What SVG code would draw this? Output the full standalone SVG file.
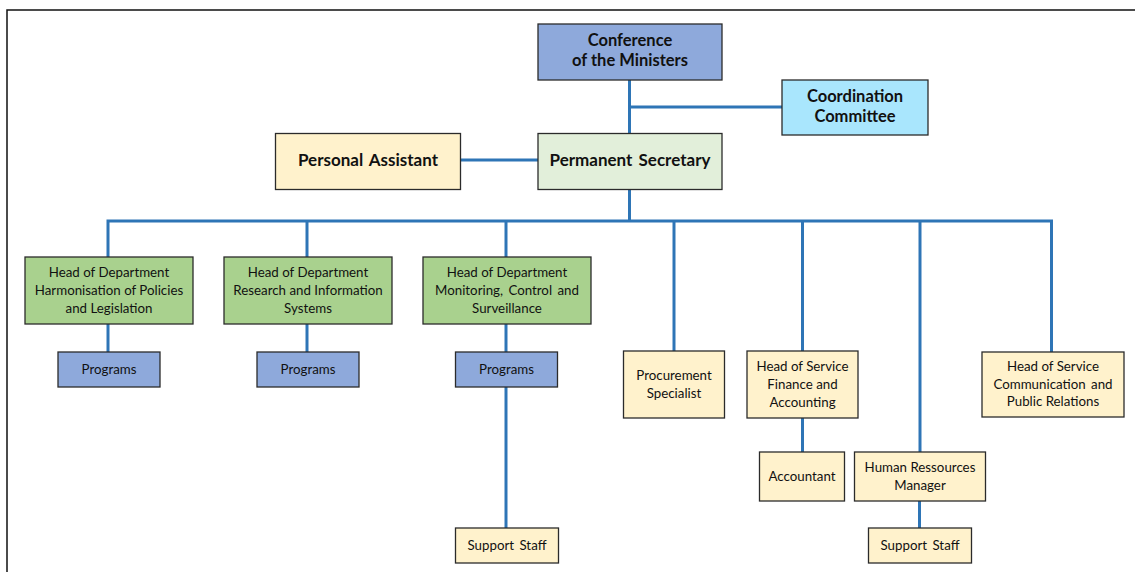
<svg xmlns="http://www.w3.org/2000/svg" width="1135" height="572" viewBox="0 0 1135 572">
  <style>
    .box { stroke: #2b2b2b; stroke-width: 1.3; }
    .blue { fill: #8EA9DB; }
    .cyan { fill: #A9E6FD; }
    .pale { fill: #E2EFDA; }
    .cream { fill: #FFF2CC; }
    .green { fill: #A9D18E; }
    .big { font-family: Lato, "Noto Sans", sans-serif; font-weight: bold; font-size: 16.5px; fill: #111; text-anchor: middle; }
    .wide { font-size: 17px; }
    .small { font-family: Lato, "Noto Sans", sans-serif; font-size: 13.3px; fill: #111; text-anchor: middle; }
    .link { stroke: #2E75B6; stroke-width: 3; fill: none; }
  </style>
  <rect width="1135" height="572" fill="#ffffff"/>
  <!-- page frame (only top and left edges are in view) -->
  <rect x="7" y="10" width="1300" height="700" fill="none" stroke="#111" stroke-width="1.5"/>

  <g id="connectors">
    <path class="link" d="M629.5 80 V133"/>
    <path class="link" d="M629.5 107 H782"/>
    <path class="link" d="M460 160 H538"/>
    <path class="link" d="M629.5 190 V221"/>
    <path class="link" d="M108 257 V221 H1051.5 V352"/>
    <path class="link" d="M307 221 V257"/>
    <path class="link" d="M506 221 V257"/>
    <path class="link" d="M674 221 V351"/>
    <path class="link" d="M802.5 221 V351"/>
    <path class="link" d="M920 221 V452"/>
    <path class="link" d="M108 324 V352"/>
    <path class="link" d="M307 324 V352"/>
    <path class="link" d="M506 324 V352"/>
    <path class="link" d="M506 387 V528"/>
    <path class="link" d="M802.5 418 V452"/>
    <path class="link" d="M919.5 501 V528"/>
  </g>

  <g id="conference">
    <rect class="box blue" x="538" y="24" width="184" height="56"/>
    <text class="big" x="630" y="46">Conference<tspan x="630" dy="20">of the Ministers</tspan></text>
  </g>
  <g id="coordination">
    <rect class="box cyan" x="782" y="80" width="146" height="55"/>
    <text class="big" x="855" y="102">Coordination<tspan x="855" dy="20">Committee</tspan></text>
  </g>
  <g id="personal-assistant">
    <rect class="box cream" x="275.5" y="133.5" width="185" height="56"/>
    <text class="big wide" x="368" y="166" word-spacing="2">Personal Assistant</text>
  </g>
  <g id="permanent-secretary">
    <rect class="box pale" x="538" y="133.5" width="184" height="56"/>
    <text class="big wide" x="630" y="166" word-spacing="2">Permanent Secretary</text>
  </g>

  <g id="hod-policies">
    <rect class="box green" x="25" y="257" width="168" height="67"/>
    <text class="small" x="109" y="277">Head of Department<tspan x="109" dy="18">Harmonisation of Policies</tspan><tspan x="109" dy="18">and Legislation</tspan></text>
  </g>
  <g id="hod-research">
    <rect class="box green" x="224" y="257" width="168" height="67"/>
    <text class="small" x="308" y="277">Head of Department<tspan x="308" dy="18">Research and Information</tspan><tspan x="308" dy="18">Systems</tspan></text>
  </g>
  <g id="hod-monitoring">
    <rect class="box green" x="423" y="257" width="168" height="67"/>
    <text class="small" x="507" y="277">Head of Department<tspan x="507" dy="18" word-spacing="2">Monitoring, Control and</tspan><tspan x="507" dy="18">Surveillance</tspan></text>
  </g>

  <g id="programs-1">
    <rect class="box blue" x="58" y="352" width="102" height="35"/>
    <text class="small" x="109" y="374">Programs</text>
  </g>
  <g id="programs-2">
    <rect class="box blue" x="257" y="352" width="102" height="35"/>
    <text class="small" x="308" y="374">Programs</text>
  </g>
  <g id="programs-3">
    <rect class="box blue" x="455.5" y="352" width="102" height="35"/>
    <text class="small" x="506.5" y="374">Programs</text>
  </g>

  <g id="procurement">
    <rect class="box cream" x="623.5" y="351" width="101" height="67"/>
    <text class="small" x="674" y="380">Procurement<tspan x="674" dy="18">Specialist</tspan></text>
  </g>
  <g id="hos-finance">
    <rect class="box cream" x="747" y="351" width="111" height="67"/>
    <text class="small" x="802.5" y="371">Head of Service<tspan x="802.5" dy="18">Finance and</tspan><tspan x="802.5" dy="18">Accounting</tspan></text>
  </g>
  <g id="hos-communication">
    <rect class="box cream" x="982" y="352" width="142" height="65"/>
    <text class="small" x="1053" y="371">Head of Service<tspan x="1053" dy="18" word-spacing="2">Communication and</tspan><tspan x="1053" dy="17">Public Relations</tspan></text>
  </g>

  <g id="accountant">
    <rect class="box cream" x="759.5" y="452" width="85" height="49"/>
    <text class="small" x="802" y="481">Accountant</text>
  </g>
  <g id="hr-manager">
    <rect class="box cream" x="854.5" y="452" width="131" height="49"/>
    <text class="small" x="920" y="472">Human Ressources<tspan x="920" dy="18">Manager</tspan></text>
  </g>

  <g id="support-staff-1">
    <rect class="box cream" x="455.5" y="528" width="103" height="35"/>
    <text class="small" x="507" y="550" word-spacing="2">Support Staff</text>
  </g>
  <g id="support-staff-2">
    <rect class="box cream" x="868.5" y="528" width="103" height="35"/>
    <text class="small" x="920" y="550" word-spacing="2">Support Staff</text>
  </g>
</svg>
